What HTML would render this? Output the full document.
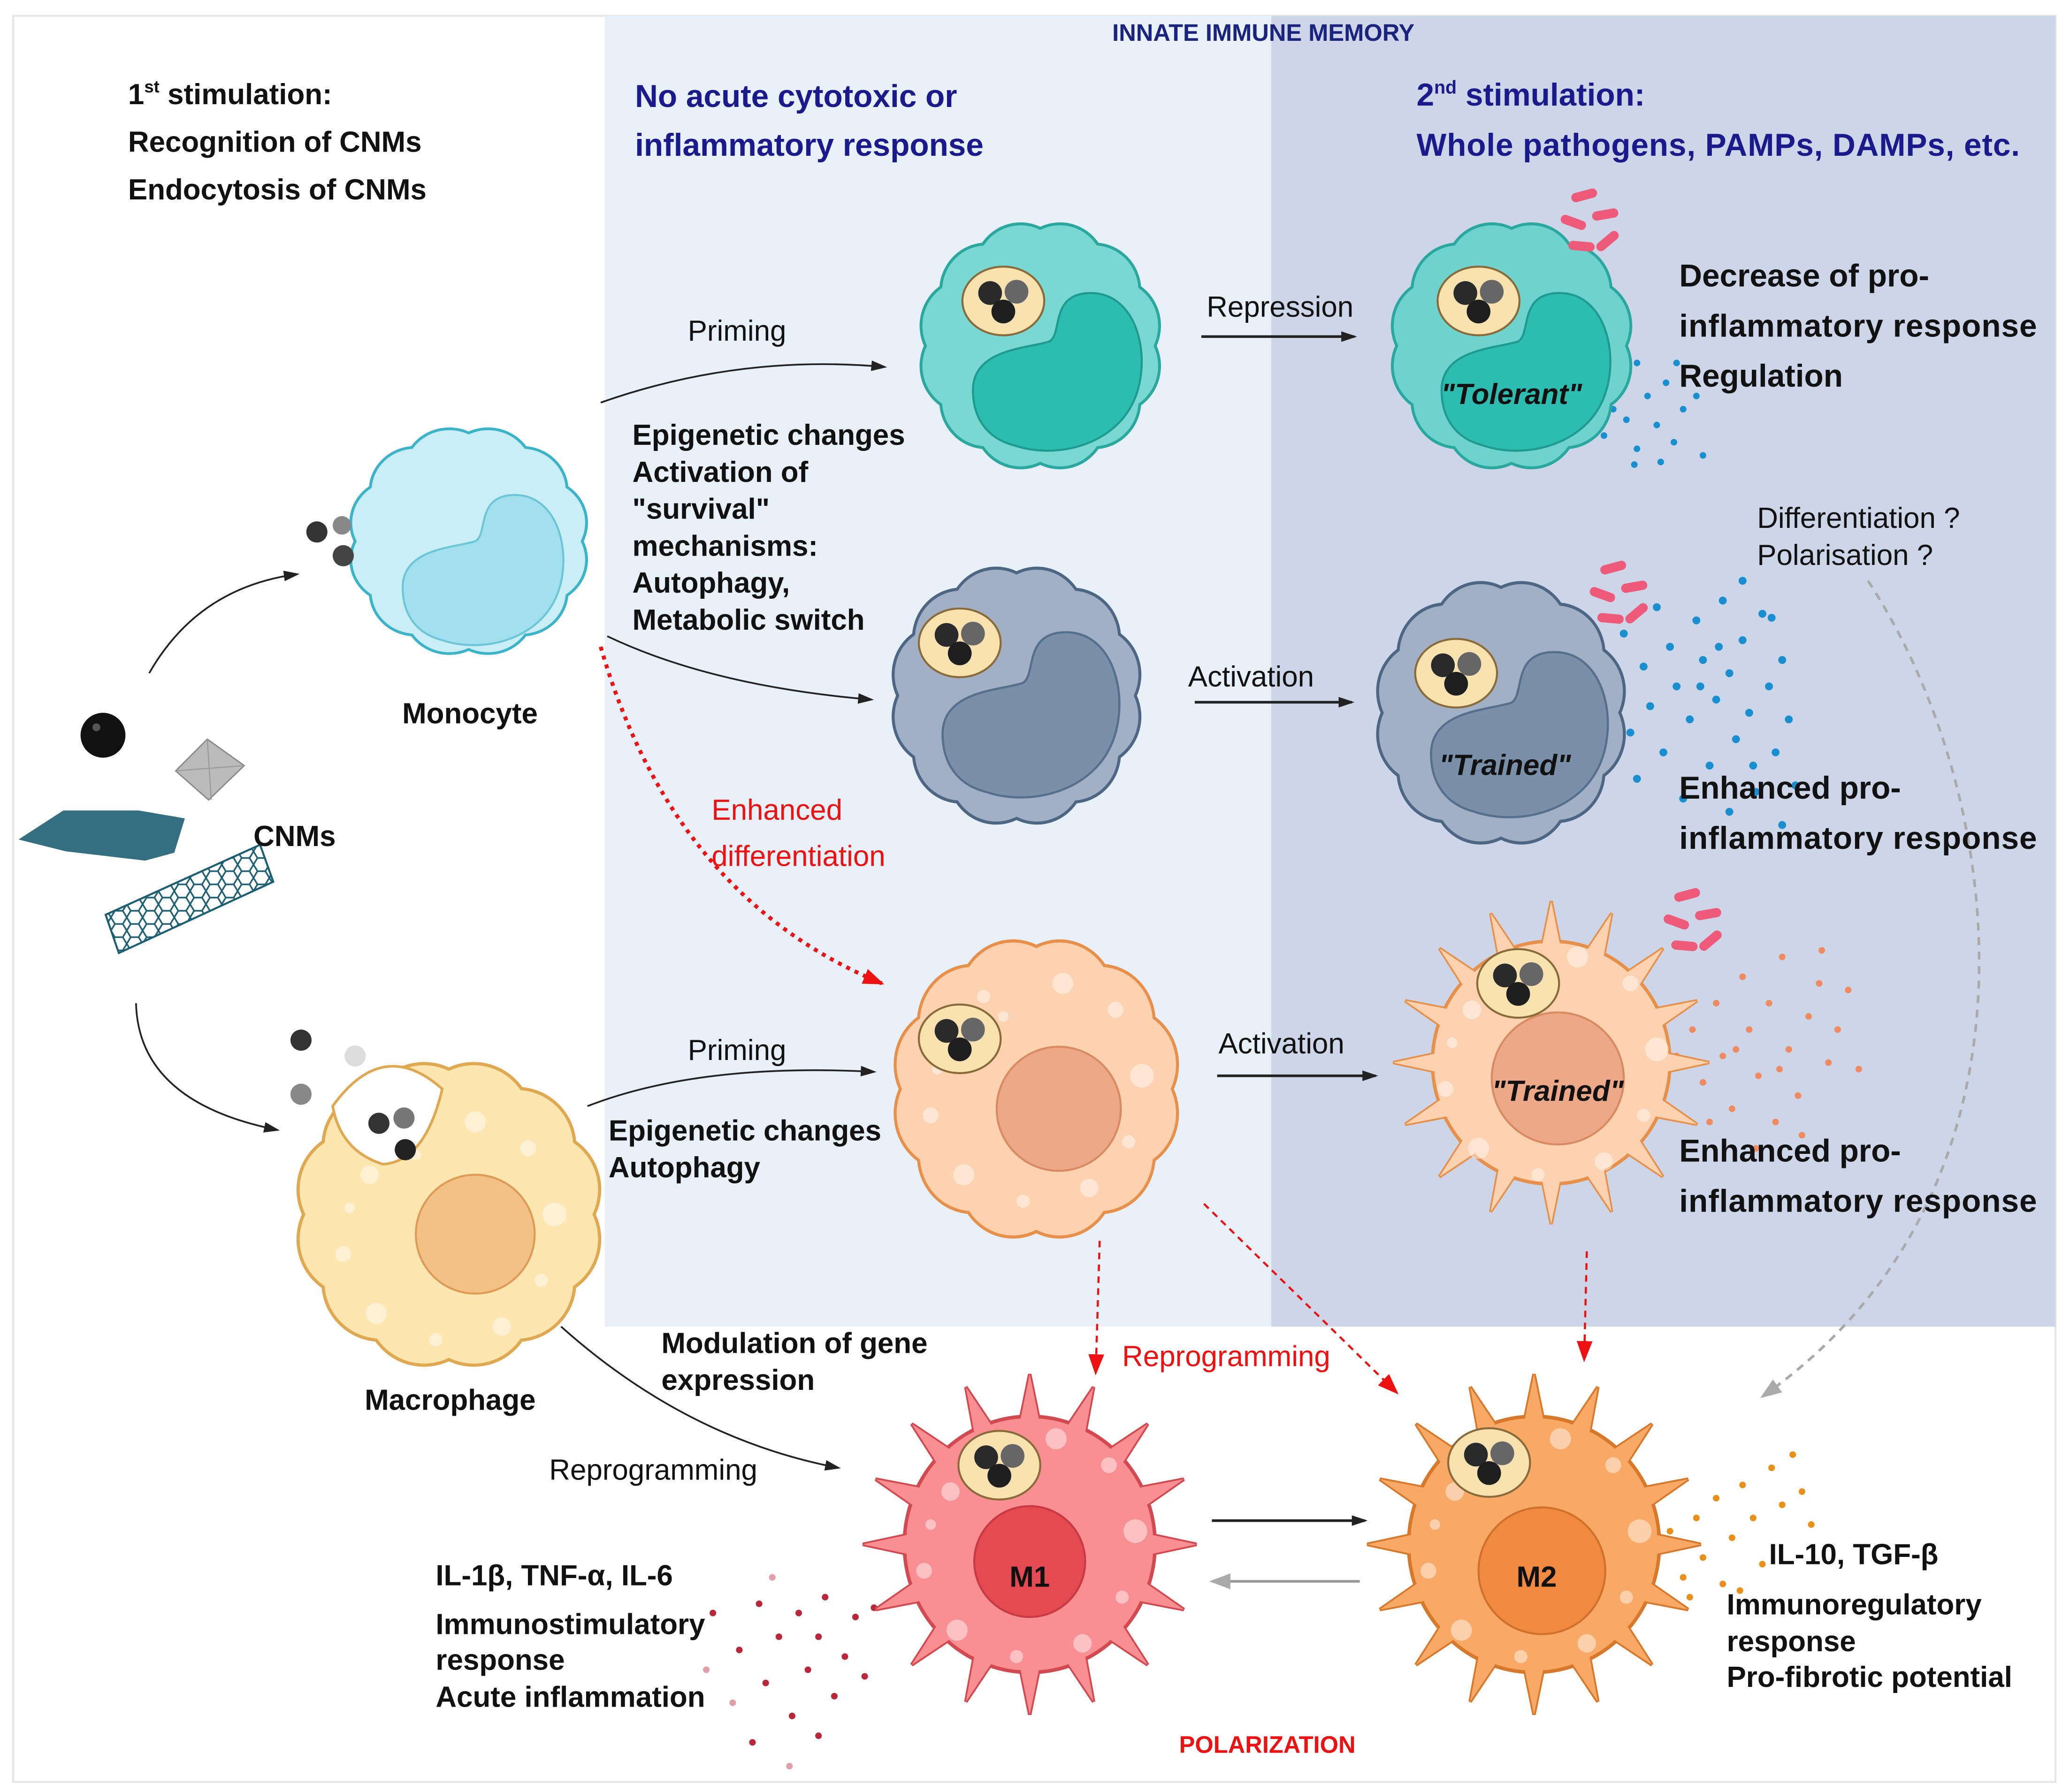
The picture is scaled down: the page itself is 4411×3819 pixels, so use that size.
<!DOCTYPE html>
<html><head><meta charset="utf-8">
<style>
html,body{margin:0;padding:0;background:#fff;}
svg{display:block;}
text{font-family:"Liberation Sans",sans-serif;}
.b{font-weight:bold;}
</style></head>
<body>
<svg width="4411" height="3819" viewBox="0 0 1568 1357.6" xmlns="http://www.w3.org/2000/svg" xmlns:xlink="http://www.w3.org/1999/xlink">
<defs>
<marker id="ah" markerWidth="12" markerHeight="8" refX="10" refY="4" orient="auto" markerUnits="userSpaceOnUse"><path d="M0,0 L12,4 L0,8 Z" fill="#222"/></marker>
<marker id="ar" markerWidth="16" markerHeight="12" refX="14" refY="6" orient="auto" markerUnits="userSpaceOnUse"><path d="M0,0 L16,6 L0,12 Z" fill="#e11"/></marker>
<marker id="ag" markerWidth="16" markerHeight="12" refX="14" refY="6" orient="auto" markerUnits="userSpaceOnUse"><path d="M0,0 L16,6 L0,12 Z" fill="#aaa"/></marker>
<pattern id="hex" width="12" height="10" patternUnits="userSpaceOnUse"><path d="M3,0 L9,0 L12,5 L9,10 L3,10 L0,5 Z" fill="none" stroke="#1d5f72" stroke-width="1.2"/></pattern>
<path id="wav" d="M100,0 A40,40 0 0 1 86.6,50 A40,40 0 0 1 50,86.6 A40,40 0 0 1 0,100 A40,40 0 0 1 -50,86.6 A40,40 0 0 1 -86.6,50 A40,40 0 0 1 -100,0 A40,40 0 0 1 -86.6,-50 A40,40 0 0 1 -50,-86.6 A40,40 0 0 1 0,-100 A40,40 0 0 1 50,-86.6 A40,40 0 0 1 86.6,-50 A40,40 0 0 1 100,0 Z"/>
<path id="kid" d="M-60,10 C-60,-20 -20,-20 -5,-25 C5,-30 -5,-60 25,-60 C60,-60 70,-10 55,20 C40,50 0,60 -30,50 C-50,45 -60,30 -60,10Z"/>
<g id="spikes">
<polygon points="90,-9 133,0 90,9" transform="rotate(0)"/>
<polygon points="90,-9 133,0 90,9" transform="rotate(22.5)"/>
<polygon points="90,-9 133,0 90,9" transform="rotate(45)"/>
<polygon points="90,-9 133,0 90,9" transform="rotate(67.5)"/>
<polygon points="90,-9 133,0 90,9" transform="rotate(90)"/>
<polygon points="90,-9 133,0 90,9" transform="rotate(112.5)"/>
<polygon points="90,-9 133,0 90,9" transform="rotate(135)"/>
<polygon points="90,-9 133,0 90,9" transform="rotate(157.5)"/>
<polygon points="90,-9 133,0 90,9" transform="rotate(180)"/>
<polygon points="90,-9 133,0 90,9" transform="rotate(202.5)"/>
<polygon points="90,-9 133,0 90,9" transform="rotate(225)"/>
<polygon points="90,-9 133,0 90,9" transform="rotate(247.5)"/>
<polygon points="90,-9 133,0 90,9" transform="rotate(270)"/>
<polygon points="90,-9 133,0 90,9" transform="rotate(292.5)"/>
<polygon points="90,-9 133,0 90,9" transform="rotate(315)"/>
<polygon points="90,-9 133,0 90,9" transform="rotate(337.5)"/>
</g>
<g id="vac">
<ellipse rx="31" ry="26" fill="#f8e2b0" stroke="#8a6a3a" stroke-width="1.5"/>
<circle cx="-10" cy="-6" r="9" fill="#2a2a2a"/><circle cx="10" cy="-7" r="9" fill="#666"/><circle cx="0" cy="8" r="9" fill="#1e1e1e"/>
</g>
<g id="bac" fill="#ee5a7a">
<rect x="-10" y="-3.5" width="20" height="7" rx="3.5" transform="rotate(-15)"/>
<rect x="6" y="11" width="20" height="7" rx="3.5" transform="rotate(-10 16 15)"/>
<rect x="-18" y="17" width="20" height="7" rx="3.5" transform="rotate(20 -8 20)"/>
<rect x="8" y="31" width="20" height="7" rx="3.5" transform="rotate(-40 18 35)"/>
<rect x="-12" y="35" width="20" height="7" rx="3.5" transform="rotate(5 -2 38)"/>
</g>
<g id="blobs" fill="#fff" opacity="0.45">
<circle cx="-60" cy="-40" r="7"/><circle cx="-40" cy="-70" r="5"/><circle cx="20" cy="-80" r="8"/><circle cx="60" cy="-60" r="6"/>
<circle cx="80" cy="-10" r="9"/><circle cx="70" cy="40" r="5"/><circle cx="40" cy="75" r="7"/><circle cx="-10" cy="85" r="5"/>
<circle cx="-55" cy="65" r="8"/><circle cx="-80" cy="20" r="6"/><circle cx="-75" cy="-15" r="4"/><circle cx="-25" cy="-55" r="4"/>
</g>
</defs>
<rect x="10" y="12" width="1547" height="1338" fill="#fff" stroke="#e6e6e6" stroke-width="1.5"/>
<rect x="458" y="12" width="505" height="993" fill="#e8f1fa"/>
<rect x="963" y="12" width="594" height="993" fill="#cdd6e8"/>
<text x="957" y="31" text-anchor="middle" class="b" font-size="18" fill="#1a237e">INNATE IMMUNE MEMORY</text>

<!-- CNMs -->
<circle cx="78" cy="557" r="17" fill="#111"/><circle cx="73" cy="551" r="3" fill="#555"/>
<path d="M133,584 L157,560 L185,580 L158,606 Z" fill="#bbb" stroke="#888" stroke-width="1"/>
<path d="M157,560 L160,606 M133,584 L185,580" stroke="#999" stroke-width="0.8" fill="none"/>
<path d="M14,636 L48,614 L105,614 L140,620 L132,646 L110,652 L50,645 Z" fill="#1d5f72" opacity="0.9"/>
<path d="M80,693 L197,640 L207,668 L90,722 Z" fill="url(#hex)" stroke="#1d5f72" stroke-width="1.5"/>

<!-- monocyte -->
<g transform="translate(355,410) scale(0.86,0.82)" fill="#caeef6" stroke="#3bb3c8" stroke-width="2.5"><use xlink:href="#wav"/></g>
<use xlink:href="#kid" transform="translate(365,435)" fill="#a2e0ee" stroke="#6cc6d8" stroke-width="1.5"/>
<circle cx="240" cy="403" r="8" fill="#333"/><circle cx="259" cy="398" r="7" fill="#888"/><circle cx="260" cy="421" r="8" fill="#444"/>

<!-- macrophage -->
<g transform="translate(340,920) scale(1.1)" fill="#fde6b0" stroke="#e0a850" stroke-width="2.2"><use xlink:href="#wav"/></g>
<path d="M252,838 Q290,785 335,825 Q322,880 290,882 Q258,872 252,838Z" fill="#fff" stroke="#e0a850" stroke-width="2"/>
<use xlink:href="#blobs" transform="translate(340,930)"/>
<circle cx="360" cy="935" r="45" fill="#f2c185" stroke="#e09a55" stroke-width="1.5"/>
<circle cx="228" cy="788" r="8" fill="#333"/><circle cx="269" cy="800" r="8" fill="#ddd"/><circle cx="228" cy="829" r="8" fill="#888"/>
<circle cx="287" cy="851" r="8" fill="#333"/><circle cx="306" cy="847" r="8" fill="#777"/><circle cx="307" cy="871" r="8" fill="#222"/>

<!-- teal cell -->
<g transform="translate(788,262) scale(0.87,0.89)" fill="#7ad8d2" stroke="#2aa89f" stroke-width="2.5"><use xlink:href="#wav"/></g>
<use xlink:href="#kid" transform="translate(800,285) scale(1.05)" fill="#2cbcb0" stroke="#1e9a90" stroke-width="1.5"/>
<use xlink:href="#vac" transform="translate(760,228)"/>

<!-- gray cell -->
<g transform="translate(770,527) scale(0.9,0.93)" fill="#a1b0c4" stroke="#4c6684" stroke-width="2.5"><use xlink:href="#wav"/></g>
<use xlink:href="#kid" transform="translate(780,545) scale(1.1)" fill="#7a8fa8" stroke="#556f8c" stroke-width="1.5"/>
<use xlink:href="#vac" transform="translate(727,487)"/>

<!-- orange cell -->
<g transform="translate(785,825) scale(1.03,1.08)" fill="#fdd2b0" stroke="#e8904a" stroke-width="2.2"><use xlink:href="#wav"/></g>
<use xlink:href="#blobs" transform="translate(785,825)"/>
<circle cx="802" cy="840" r="47" fill="#eda888" stroke="#d98a60" stroke-width="1.5"/>
<use xlink:href="#vac" transform="translate(727,787)"/>

<!-- tolerant -->
<g fill="#1a8fd0">
<circle cx="1210" cy="300" r="2.5"/><circle cx="1225" cy="285" r="2.5"/><circle cx="1240" cy="275" r="2.5"/><circle cx="1248" cy="300" r="2.5"/><circle cx="1262" cy="290" r="2.5"/><circle cx="1275" cy="310" r="2.5"/><circle cx="1232" cy="318" r="2.5"/><circle cx="1255" cy="322" r="2.5"/><circle cx="1285" cy="300" r="2.5"/><circle cx="1215" cy="330" r="2.5"/><circle cx="1240" cy="340" r="2.5"/><circle cx="1268" cy="335" r="2.5"/><circle cx="1290" cy="345" r="2.5"/><circle cx="1238" cy="352" r="2.5"/><circle cx="1258" cy="350" r="2.5"/><circle cx="1222" cy="310" r="2.5"/><circle cx="1270" cy="275" r="2.5"/>
</g>
<g transform="translate(1145,262) scale(0.87,0.89)" fill="#6dd3cc" stroke="#2aa89f" stroke-width="2.5"><use xlink:href="#wav"/></g>
<use xlink:href="#kid" transform="translate(1155,285) scale(1.05)" fill="#2cbcb0" stroke="#1e9a90" stroke-width="1.5"/>
<use xlink:href="#vac" transform="translate(1120,228)"/>
<use xlink:href="#bac" transform="translate(1200,148)"/>

<!-- trained gray -->
<g fill="#1a8fd0">
<circle cx="1200" cy="530" r="3"/><circle cx="1215" cy="545" r="3"/><circle cx="1225" cy="520" r="3"/><circle cx="1235" cy="555" r="3"/><circle cx="1245" cy="505" r="3"/><circle cx="1250" cy="535" r="3"/><circle cx="1260" cy="570" r="3"/><circle cx="1265" cy="490" r="3"/><circle cx="1270" cy="520" r="3"/><circle cx="1280" cy="545" r="3"/><circle cx="1285" cy="470" r="3"/><circle cx="1290" cy="500" r="3"/><circle cx="1295" cy="580" r="3"/><circle cx="1300" cy="530" r="3"/><circle cx="1305" cy="455" r="3"/><circle cx="1310" cy="510" r="3"/><circle cx="1315" cy="560" r="3"/><circle cx="1320" cy="485" r="3"/><circle cx="1325" cy="540" r="3"/><circle cx="1330" cy="600" r="3"/><circle cx="1335" cy="465" r="3"/><circle cx="1340" cy="520" r="3"/><circle cx="1345" cy="570" r="3"/><circle cx="1350" cy="500" r="3"/><circle cx="1355" cy="545" r="3"/><circle cx="1360" cy="595" r="3"/><circle cx="1240" cy="590" r="3"/><circle cx="1275" cy="605" r="3"/><circle cx="1310" cy="615" r="3"/><circle cx="1350" cy="625" r="3"/><circle cx="1230" cy="480" r="3"/><circle cx="1255" cy="460" r="3"/><circle cx="1320" cy="440" r="3"/><circle cx="1342" cy="468" r="3"/><circle cx="1222" cy="570" r="3"/><circle cx="1288" cy="520" r="3"/><circle cx="1302" cy="490" r="3"/><circle cx="1328" cy="580" r="3"/>
</g>
<g transform="translate(1137,540) scale(0.9,0.95)" fill="#a1b0c4" stroke="#4c6684" stroke-width="2.5"><use xlink:href="#wav"/></g>
<use xlink:href="#kid" transform="translate(1150,560) scale(1.1)" fill="#7a8fa8" stroke="#556f8c" stroke-width="1.5"/>
<use xlink:href="#vac" transform="translate(1103,510)"/>
<use xlink:href="#bac" transform="translate(1222,430)"/>

<!-- trained orange spiky -->
<g fill="#f08a60">
<circle cx="1270" cy="800" r="2.5"/><circle cx="1282" cy="780" r="2.5"/><circle cx="1290" cy="820" r="2.5"/><circle cx="1300" cy="760" r="2.5"/><circle cx="1305" cy="800" r="2.5"/><circle cx="1312" cy="840" r="2.5"/><circle cx="1320" cy="740" r="2.5"/><circle cx="1325" cy="780" r="2.5"/><circle cx="1332" cy="815" r="2.5"/><circle cx="1340" cy="760" r="2.5"/><circle cx="1345" cy="850" r="2.5"/><circle cx="1350" cy="725" r="2.5"/><circle cx="1355" cy="795" r="2.5"/><circle cx="1362" cy="830" r="2.5"/><circle cx="1370" cy="770" r="2.5"/><circle cx="1378" cy="745" r="2.5"/><circle cx="1385" cy="805" r="2.5"/><circle cx="1392" cy="780" r="2.5"/><circle cx="1400" cy="750" r="2.5"/><circle cx="1408" cy="810" r="2.5"/><circle cx="1380" cy="720" r="2.5"/><circle cx="1295" cy="850" r="2.5"/><circle cx="1330" cy="870" r="2.5"/><circle cx="1365" cy="860" r="2.5"/><circle cx="1262" cy="840" r="2.5"/><circle cx="1315" cy="795" r="2.5"/><circle cx="1348" cy="810" r="2.5"/>
</g>
<g transform="translate(1175,805) scale(0.9,0.92)" fill="#fdd2b0" stroke="#e8904a" stroke-width="2.8">
<circle r="100"/><use xlink:href="#spikes"/><circle r="98.5" stroke="none"/><use xlink:href="#spikes" stroke="none"/>
</g>
<use xlink:href="#blobs" transform="translate(1175,805)"/>
<circle cx="1180" cy="817" r="50" fill="#eda888" stroke="#d98a60" stroke-width="1.5"/>
<use xlink:href="#vac" transform="translate(1150,745)"/>
<use xlink:href="#bac" transform="translate(1278,678)"/>

<!-- M1 -->
<g fill="#b8283a">
<circle cx="540" cy="1222" r="2.5"/><circle cx="560" cy="1250" r="2.5"/><circle cx="575" cy="1215" r="2.5"/><circle cx="580" cy="1275" r="2.5"/><circle cx="590" cy="1240" r="2.5"/><circle cx="600" cy="1300" r="2.5"/><circle cx="605" cy="1222" r="2.5"/><circle cx="612" cy="1265" r="2.5"/><circle cx="620" cy="1240" r="2.5"/><circle cx="625" cy="1210" r="2.5"/><circle cx="632" cy="1285" r="2.5"/><circle cx="640" cy="1255" r="2.5"/><circle cx="648" cy="1225" r="2.5"/><circle cx="655" cy="1270" r="2.5"/><circle cx="662" cy="1218" r="2.5"/><circle cx="570" cy="1320" r="2.5"/><circle cx="598" cy="1338" r="2.5" fill="#e0a0a8"/><circle cx="555" cy="1290" r="2.5" fill="#e0a0a8"/><circle cx="620" cy="1315" r="2.5"/><circle cx="535" cy="1265" r="2.5" fill="#e0a0a8"/><circle cx="585" cy="1195" r="2.5" fill="#e0a0a8"/>
</g>
<g transform="translate(780,1170) scale(0.95,0.97)" fill="#f98f92" stroke="#d24a50" stroke-width="2.8">
<circle r="100"/><use xlink:href="#spikes"/><circle r="98.5" stroke="none"/><use xlink:href="#spikes" stroke="none"/>
</g>
<use xlink:href="#blobs" transform="translate(780,1170)"/>
<circle cx="780" cy="1183" r="42" fill="#e54a52" stroke="#c83a42" stroke-width="1.5"/>
<use xlink:href="#vac" transform="translate(757,1110)"/>

<!-- M2 -->
<g fill="#e8901a">
<circle cx="1255" cy="1180" r="2.5"/><circle cx="1265" cy="1160" r="2.5"/><circle cx="1275" cy="1195" r="2.5"/><circle cx="1285" cy="1150" r="2.5"/><circle cx="1290" cy="1180" r="2.5"/><circle cx="1300" cy="1135" r="2.5"/><circle cx="1305" cy="1200" r="2.5"/><circle cx="1312" cy="1165" r="2.5"/><circle cx="1320" cy="1125" r="2.5"/><circle cx="1328" cy="1150" r="2.5"/><circle cx="1335" cy="1185" r="2.5"/><circle cx="1342" cy="1112" r="2.5"/><circle cx="1350" cy="1140" r="2.5"/><circle cx="1358" cy="1102" r="2.5"/><circle cx="1365" cy="1130" r="2.5"/><circle cx="1372" cy="1155" r="2.5"/><circle cx="1280" cy="1210" r="2.5"/><circle cx="1318" cy="1205" r="2.5"/>
</g>
<g transform="translate(1162,1170) scale(0.95,0.97)" fill="#f9a966" stroke="#d8782a" stroke-width="2.8">
<circle r="100"/><use xlink:href="#spikes"/><circle r="98.5" stroke="none"/><use xlink:href="#spikes" stroke="none"/>
</g>
<use xlink:href="#blobs" transform="translate(1162,1170)"/>
<circle cx="1168" cy="1190" r="48" fill="#f08a40" stroke="#d0702a" stroke-width="1.5"/>
<use xlink:href="#vac" transform="translate(1128,1108)"/>

<!-- arrows -->
<g fill="none" stroke="#222" stroke-width="1.3">
<path d="M113,510 Q150,445 225,435" marker-end="url(#ah)"/>
<path d="M103,760 Q105,835 210,856" marker-end="url(#ah)"/>
<path d="M455,305 Q560,268 670,278" marker-end="url(#ah)"/>
<path d="M460,482 Q540,520 660,530" marker-end="url(#ah)"/>
<path d="M910,255 L1026,255" stroke-width="2" marker-end="url(#ah)"/>
<path d="M905,532 L1024,532" stroke-width="2" marker-end="url(#ah)"/>
<path d="M445,838 Q530,805 662,812" marker-end="url(#ah)"/>
<path d="M922,815 L1042,815" stroke-width="2" marker-end="url(#ah)"/>
<path d="M425,1005 Q520,1090 635,1112" marker-end="url(#ah)"/>
<path d="M918,1152 L1034,1152" stroke-width="2" marker-end="url(#ah)"/>
</g>
<path d="M1030,1198 L918,1198" stroke="#999" stroke-width="2" fill="none" marker-end="url(#ag)"/>
<g fill="none" stroke="#e11" stroke-width="1.6" stroke-dasharray="5,4">
<path d="M833,940 L830,1040" marker-end="url(#ar)"/>
<path d="M912,912 L1058,1055" marker-end="url(#ar)"/>
<path d="M1202,948 L1200,1030" marker-end="url(#ar)"/>
</g>
<path d="M455,490 Q510,680 668,745" fill="none" stroke="#e11" stroke-width="3" stroke-dasharray="3,4" marker-end="url(#ar)"/>
<path d="M1415,440 C1520,600 1560,900 1335,1058" fill="none" stroke="#aaa" stroke-width="2" stroke-dasharray="6,5" marker-end="url(#ag)"/>

<!-- texts -->
<g font-size="22" fill="#111">
<text x="97" y="79" class="b">1<tspan font-size="13" dy="-9">st</tspan><tspan dy="9"> stimulation:</tspan></text>
<text x="97" y="115" class="b">Recognition of CNMs</text>
<text x="97" y="151" class="b">Endocytosis of CNMs</text>
<text x="481" y="81" class="b" font-size="24" fill="#1a1a8c">No acute cytotoxic or</text>
<text x="481" y="118" class="b" font-size="24" fill="#1a1a8c">inflammatory response</text>
<text x="1073" y="80" class="b" font-size="24" fill="#1a1a8c">2<tspan font-size="14" dy="-9">nd</tspan><tspan dy="9"> stimulation:</tspan></text>
<text x="1073" y="118" class="b" font-size="24" fill="#1a1a8c" textLength="457">Whole pathogens, PAMPs, DAMPs, etc.</text>
<text x="521" y="258">Priming</text>
<text x="914" y="240">Repression</text>
<text x="1272" y="217" class="b" font-size="24">Decrease of pro-</text>
<text x="1272" y="255" class="b" font-size="24" textLength="271">inflammatory response</text>
<text x="1272" y="293" class="b" font-size="24">Regulation</text>
<text x="479" y="337" class="b">Epigenetic changes</text>
<text x="479" y="365" class="b">Activation of</text>
<text x="479" y="393" class="b">"survival"</text>
<text x="479" y="421" class="b">mechanisms:</text>
<text x="479" y="449" class="b">Autophagy,</text>
<text x="479" y="477" class="b">Metabolic switch</text>
<text x="1331" y="400">Differentiation ?</text>
<text x="1331" y="428">Polarisation ?</text>
<text x="900" y="520">Activation</text>
<text x="539" y="621" fill="#e11">Enhanced</text>
<text x="539" y="656" fill="#e11">differentiation</text>
<text x="1272" y="605" class="b" font-size="24">Enhanced pro-</text>
<text x="1272" y="643" class="b" font-size="24" textLength="271">inflammatory response</text>
<text x="521" y="803">Priming</text>
<text x="923" y="798">Activation</text>
<text x="461" y="864" class="b">Epigenetic changes</text>
<text x="461" y="892" class="b">Autophagy</text>
<text x="1272" y="880" class="b" font-size="24">Enhanced pro-</text>
<text x="1272" y="918" class="b" font-size="24" textLength="271">inflammatory response</text>
<text x="501" y="1025" class="b">Modulation of gene</text>
<text x="501" y="1053" class="b">expression</text>
<text x="850" y="1035" fill="#e11">Reprogramming</text>
<text x="416" y="1121">Reprogramming</text>
<text x="330" y="1201" class="b">IL-1β, TNF-α, IL-6</text>
<text x="330" y="1238" class="b">Immunostimulatory</text>
<text x="330" y="1265" class="b">response</text>
<text x="330" y="1293" class="b">Acute inflammation</text>
<text x="1340" y="1185" class="b">IL-10, TGF-β</text>
<text x="1308" y="1223" class="b">Immunoregulatory</text>
<text x="1308" y="1251" class="b">response</text>
<text x="1308" y="1278" class="b">Pro-fibrotic potential</text>
<text x="960" y="1328" text-anchor="middle" class="b" font-size="18" fill="#e11">POLARIZATION</text>
<text x="356" y="548" text-anchor="middle" class="b">Monocyte</text>
<text x="341" y="1068" text-anchor="middle" class="b">Macrophage</text>
<text x="192" y="641" class="b">CNMs</text>
</g>
<g font-size="22" fill="#111" text-anchor="middle" font-weight="bold">
<text x="1145" y="306" font-style="italic">"Tolerant"</text>
<text x="1140" y="587" font-style="italic">"Trained"</text>
<text x="1180" y="834" font-style="italic">"Trained"</text>
<text x="780" y="1202">M1</text>
<text x="1164" y="1202">M2</text>
</g>
</svg>
</body></html>
